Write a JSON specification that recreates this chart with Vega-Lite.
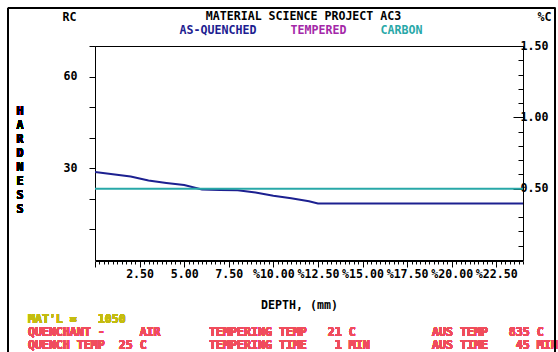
{
  "$schema": "https://vega.github.io/schema/vega-lite/v6.json",
  "width": 428,
  "height": 214,
  "autosize": {"type": "none"},
  "padding": {"left": 95, "top": 46, "right": 35, "bottom": 92},
  "background": "white",
  "config": {
    "font": "DejaVu Sans Mono",
    "view": {"stroke": "black", "strokeWidth": 1},
    "axis": {
      "labelFont": "DejaVu Sans Mono", "labelFontSize": 11.6, "labelFontWeight": "bold", "labelColor": "black",
      "titleFont": "DejaVu Sans Mono", "titleFontSize": 11.6, "titleFontWeight": "bold", "titleColor": "black",
      "domainColor": "black", "tickColor": "black", "grid": false
    },
    "text": {"font": "DejaVu Sans Mono", "fontSize": 11.6, "fontWeight": "bold"}
  },
  "title": {
    "text": "MATERIAL SCIENCE PROJECT AC3",
    "frame": "group", "anchor": "middle", "baseline": "middle", "offset": -21, "dx": -5.5,
    "font": "DejaVu Sans Mono", "fontSize": 11.6, "fontWeight": "bold", "color": "black"
  },
  "data": {
    "values": [
      {"depth": 0, "hardness": 28.75, "carbon": 0.5},
      {"depth": 1, "hardness": 28.05, "carbon": 0.5},
      {"depth": 2, "hardness": 27.3, "carbon": 0.5},
      {"depth": 3, "hardness": 26.0, "carbon": 0.5},
      {"depth": 4, "hardness": 25.2, "carbon": 0.5},
      {"depth": 5, "hardness": 24.5, "carbon": 0.5},
      {"depth": 6, "hardness": 23.1, "carbon": 0.5},
      {"depth": 7, "hardness": 22.9, "carbon": 0.5},
      {"depth": 8, "hardness": 22.8, "carbon": 0.5},
      {"depth": 9, "hardness": 22.1, "carbon": 0.5},
      {"depth": 10, "hardness": 21.0, "carbon": 0.5},
      {"depth": 11, "hardness": 20.2, "carbon": 0.5},
      {"depth": 12, "hardness": 19.2, "carbon": 0.5},
      {"depth": 12.5, "hardness": 18.5, "carbon": 0.5},
      {"depth": 13, "hardness": 18.5, "carbon": 0.5},
      {"depth": 14, "hardness": 18.5, "carbon": 0.5},
      {"depth": 15, "hardness": 18.5, "carbon": 0.5},
      {"depth": 16, "hardness": 18.5, "carbon": 0.5},
      {"depth": 17, "hardness": 18.5, "carbon": 0.5},
      {"depth": 18, "hardness": 18.5, "carbon": 0.5},
      {"depth": 19, "hardness": 18.5, "carbon": 0.5},
      {"depth": 20, "hardness": 18.5, "carbon": 0.5},
      {"depth": 21, "hardness": 18.5, "carbon": 0.5},
      {"depth": 22, "hardness": 18.5, "carbon": 0.5},
      {"depth": 23, "hardness": 18.5, "carbon": 0.5},
      {"depth": 24, "hardness": 18.5, "carbon": 0.5}
    ]
  },
  "layer": [
    {
      "layer": [
        {
          "mark": {"type": "line", "strokeWidth": 2, "clip": true},
          "encoding": {
            "x": {
              "field": "depth", "type": "quantitative",
              "scale": {"domain": [0, 24], "nice": false, "zero": false},
              "axis": {
                "values": [0,0.25,0.5,0.75,1,1.25,1.5,1.75,2,2.25,2.5,2.75,3,3.25,3.5,3.75,4,4.25,4.5,4.75,5,5.25,5.5,5.75,6,6.25,6.5,6.75,7,7.25,7.5,7.75,8,8.25,8.5,8.75,9,9.25,9.5,9.75,10,10.25,10.5,10.75,11,11.25,11.5,11.75,12,12.25,12.5,12.75,13,13.25,13.5,13.75,14,14.25,14.5,14.75,15,15.25,15.5,15.75,16,16.25,16.5,16.75,17,17.25,17.5,17.75,18,18.25,18.5,18.75,19,19.25,19.5,19.75,20,20.25,20.5,20.75,21,21.25,21.5,21.75,22,22.25,22.5,22.75,23,23.25,23.5,23.75,24],
                "tickCount": 1000,
                "labelExpr": "datum.value > 0 && datum.value % 2.5 == 0 ? (datum.value >= 10 ? '%' : '') + format(datum.value, '.2f') : ''",
                "tickSize": {"condition": {"test": "datum.value % 2.5 == 0", "value": 6}, "value": 3},
                "labelOverlap": false, "labelFlush": false, "labelPadding": 1, "offset": 1,
                "title": "DEPTH, (mm)", "titleX": 204, "titleY": 44, "titleAlign": "center", "titleBaseline": "middle"
              }
            },
            "y": {
              "field": "hardness", "type": "quantitative",
              "scale": {"domain": [0, 70], "nice": false, "zero": true},
              "axis": {
                "values": [10, 20, 30, 40, 50, 60, 70],
                "tickCount": 1000,
                "tickSize": 6,
                "labelExpr": "datum.value == 30 || datum.value == 60 ? format(datum.value, 'd') : ''",
                "labelPadding": 12, "labelOverlap": false, "labelFlush": false,
                "title": "RC", "titleAngle": 0, "titleX": -26, "titleY": -29, "titleAlign": "center", "titleBaseline": "middle"
              }
            },
            "color": {
              "datum": "AS-QUENCHED",
              "scale": {"domain": ["AS-QUENCHED", "TEMPERED", "CARBON"], "range": ["#1c2090", "#a428a8", "#28a8a8"]},
              "legend": {
                "orient": "none", "legendX": 73, "legendY": -21, "direction": "horizontal", "title": null,
                "symbolSize": 0, "symbolOpacity": 0, "symbolStrokeWidth": 0, "labelOffset": 0, "columnPadding": 22,
                "labelFont": "DejaVu Sans Mono", "labelFontSize": 11.6, "labelFontWeight": "bold", "padding": 0,
                "encode": {"labels": {"update": {"fill": {"scale": "color", "field": "value"}}}}
              }
            }
          }
        },
        {
          "mark": {"type": "text", "text": ["H", "A", "R", "D", "N", "E", "S", "S"], "lineHeight": 14, "baseline": "top", "align": "center", "fill": "#000000", "opacity": 1},
          "encoding": {"x": {"datum": -4.2}, "y": {"datum": 50.4}}
        },
        {
          "mark": {"type": "text", "text": "MAT'L =\u00a0\u00a0\u00a01050", "baseline": "top", "align": "left", "fill": "#c4bc10"},
          "encoding": {"x": {"datum": -3.76}, "y": {"datum": -17.7}}
        },
        {
          "mark": {"type": "text", "text": ["QUENCHANT -\u00a0\u00a0\u00a0\u00a0\u00a0AIR", "QUENCH TEMP\u00a0\u00a025 C"], "lineHeight": 12.5, "baseline": "top", "align": "left", "fill": "#f04c5c"},
          "encoding": {"x": {"datum": -3.76}, "y": {"datum": -22.0}}
        },
        {
          "mark": {"type": "text", "text": ["TEMPERING TEMP\u00a0\u00a0\u00a021 C", "TEMPERING TIME\u00a0\u00a0\u00a0\u00a01 MIN"], "lineHeight": 12.5, "baseline": "top", "align": "left", "fill": "#f04c5c"},
          "encoding": {"x": {"datum": 6.4}, "y": {"datum": -22.0}}
        },
        {
          "mark": {"type": "text", "text": ["AUS TEMP\u00a0\u00a0\u00a0835 C", "AUS TIME\u00a0\u00a0\u00a0\u00a045 MIN"], "lineHeight": 12.5, "baseline": "top", "align": "left", "fill": "#f04c5c"},
          "encoding": {"x": {"datum": 18.9}, "y": {"datum": -22.0}}
        },
        {
          "mark": {"type": "rect", "fill": null, "fillOpacity": 0, "stroke": "black", "strokeWidth": 1},
          "encoding": {"x": {"datum": -4.88}, "x2": {"datum": 25.8}, "y": {"datum": 82.4}, "y2": {"datum": -40}}
        }
      ]
    },
    {
      "mark": {"type": "line", "strokeWidth": 2, "clip": true},
      "encoding": {
        "x": {"field": "depth", "type": "quantitative"},
        "y": {
          "field": "carbon", "type": "quantitative",
          "scale": {"domain": [0, 1.5], "nice": false, "zero": true},
          "axis": {
            "orient": "right",
            "values": [0, 0.1, 0.2, 0.3, 0.4, 0.5, 0.6, 0.7, 0.8, 0.9, 1, 1.1, 1.2, 1.3, 1.4, 1.5],
            "tickCount": 1000,
            "tickSize": {"condition": {"test": "datum.value == 0.5 || datum.value == 1 || datum.value == 1.5", "value": -10}, "value": -5},
            "labelExpr": "(datum.value == 0.5 || datum.value == 1 || datum.value == 1.5) ? format(datum.value, '.2f') : ''",
            "labelPadding": 7, "labelOverlap": false, "labelFlush": false,
            "title": "%C", "titleAngle": 0, "titleX": 21, "titleY": -29, "titleAlign": "center", "titleBaseline": "middle"
          }
        },
        "color": {"datum": "CARBON"}
      }
    }
  ],
  "resolve": {"scale": {"y": "independent"}}
}
